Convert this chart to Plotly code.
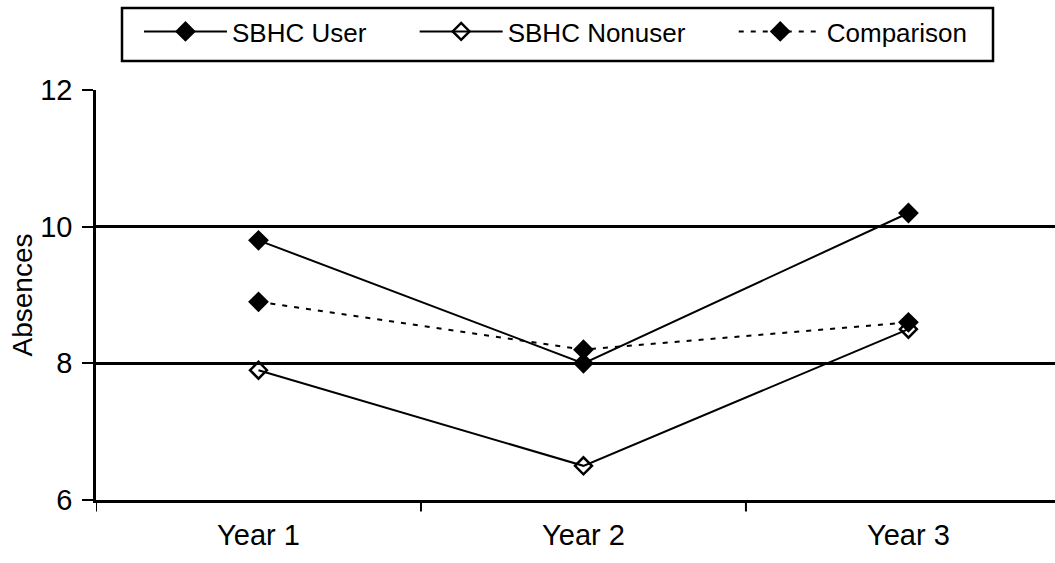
import plotly.graph_objects as go

years = ["Year 1", "Year 2", "Year 3"]
sbhc_user = [9.8, 8.0, 10.2]
sbhc_nonuser = [7.9, 6.5, 8.5]
comparison = [8.9, 8.2, 8.6]
series_names = ["SBHC User", "SBHC Nonuser", "Comparison"]

font = "Liberation Sans, Arial, sans-serif"
xi = list(range(len(years)))
pad = "\u00a0" * 6  # spacing after legend entries

fig = go.Figure()
fig.add_trace(go.Scatter(
    x=xi, y=sbhc_user, name=series_names[0] + pad, mode="lines+markers",
    line=dict(color="black", width=2),
    marker=dict(symbol="diamond", size=16, color="black"),
))
fig.add_trace(go.Scatter(
    x=xi, y=sbhc_nonuser, name=series_names[1] + pad, mode="lines+markers",
    line=dict(color="black", width=2),
    marker=dict(symbol="diamond-open", size=13, color="black", line=dict(width=2.5)),
))
fig.add_trace(go.Scatter(
    x=xi, y=comparison, name=series_names[2], mode="lines+markers",
    line=dict(color="black", width=2, dash="5px,7px"),
    marker=dict(symbol="diamond", size=16, color="black"),
))

fig.update_layout(
    width=1055, height=563,
    margin=dict(l=96, r=0, t=90, b=63),
    paper_bgcolor="white", plot_bgcolor="white",
    font=dict(family=font, color="black", size=26),
    showlegend=True,
    legend=dict(
        orientation="h", x=0.0448, xanchor="left", y=1.2, yanchor="top",
        borderwidth=0, bgcolor="rgba(0,0,0,0)",
        font=dict(size=26), itemwidth=83, tracegroupgap=0,
    ),
    xaxis=dict(
        range=[-0.5, 2.451],
        tickmode="array", tickvals=xi, ticktext=years,
        showgrid=False, zeroline=False,
        showline=True, linecolor="black", linewidth=3,
        ticks="outside", ticklen=7, tickcolor="rgba(0,0,0,0)",
        tickfont=dict(size=29),
    ),
    yaxis=dict(
        range=[6, 12], tickvals=[6, 8, 10, 12],
        showgrid=True, gridcolor="black", gridwidth=2.5,
        zeroline=False, showline=True, linecolor="black", linewidth=2.5,
        ticks="outside", ticklen=11, tickwidth=2, tickcolor="black",
        ticklabelstandoff=4,
        tickfont=dict(size=29),
        title=dict(text="Absences", font=dict(size=28), standoff=0),
    ),
)

# legend frame
fig.add_shape(type="rect", xref="paper", yref="paper",
              x0=(122 - 96) / 959, x1=(993 - 96) / 959, y0=1.0707, y1=1.2,
              line=dict(color="black", width=2.5), fillcolor="rgba(0,0,0,0)")

# category boundary ticks on the x axis
for b in [-0.5, 0.5, 1.5]:
    fig.add_shape(type="line", xref="x", yref="paper", x0=b, x1=b, y0=0, y1=-0.028,
                  line=dict(color="black", width=2))

fig.write_html("out.html")
